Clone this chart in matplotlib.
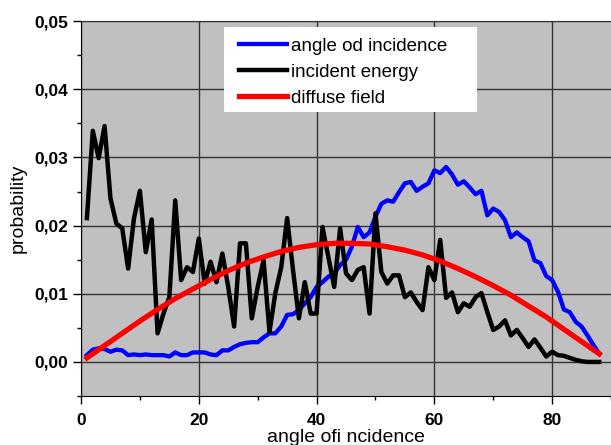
import matplotlib
matplotlib.use("Agg")
import matplotlib.pyplot as plt
from matplotlib.patches import Rectangle
from matplotlib.ticker import MultipleLocator, FuncFormatter

plt.rcParams['font.family'] = ['Liberation Sans', 'DejaVu Sans']

# --- datos ---
angles = list(range(1, 89))

angle_incidence = [
    0.0010, 0.0018, 0.0020, 0.0019, 0.0015, 0.0018, 0.0017, 0.0010, 0.0011, 0.0010,
    0.0011, 0.0010, 0.0010, 0.0010, 0.0008, 0.0014, 0.0010, 0.0010, 0.0014, 0.0014,
    0.0014, 0.0011, 0.0010, 0.0017, 0.0017, 0.0022, 0.0026, 0.0028, 0.0029, 0.0029,
    0.0036, 0.0042, 0.0042, 0.0052, 0.0069, 0.0070, 0.0076, 0.0086, 0.0095, 0.0110,
    0.0117, 0.0125, 0.0130, 0.0142, 0.0150, 0.0169, 0.0198, 0.0183, 0.0190, 0.0213,
    0.0232, 0.0237, 0.0235, 0.0249, 0.0262, 0.0264, 0.0251, 0.0257, 0.0262, 0.0281,
    0.0277, 0.0286, 0.0275, 0.0260, 0.0265, 0.0256, 0.0246, 0.0251, 0.0215, 0.0225,
    0.0220, 0.0208, 0.0183, 0.0190, 0.0183, 0.0177, 0.0149, 0.0145, 0.0126, 0.0120,
    0.0103, 0.0077, 0.0073, 0.0059, 0.0052, 0.0039, 0.0025, 0.0012,
]

incident_energy = [
    0.0211, 0.0339, 0.0299, 0.0346, 0.0240, 0.0203, 0.0196, 0.0137, 0.0211, 0.0251,
    0.0161, 0.0209, 0.0042, 0.0071, 0.0095, 0.0237, 0.0120, 0.0139, 0.0132, 0.0181,
    0.0115, 0.0147, 0.0117, 0.0159, 0.0110, 0.0052, 0.0174, 0.0174, 0.0064, 0.0110,
    0.0149, 0.0044, 0.0101, 0.0139, 0.0211, 0.0135, 0.0064, 0.0117, 0.0071, 0.0071,
    0.0198, 0.0154, 0.0110, 0.0196, 0.0130, 0.0120, 0.0135, 0.0139, 0.0071, 0.0218,
    0.0132, 0.0115, 0.0127, 0.0127, 0.0095, 0.0102, 0.0088, 0.0076, 0.0139, 0.0120,
    0.0179, 0.0094, 0.0102, 0.0073, 0.0086, 0.0081, 0.0095, 0.0101, 0.0073, 0.0047,
    0.0052, 0.0061, 0.0039, 0.0047, 0.0035, 0.0022, 0.0033, 0.0021, 0.0008, 0.0015,
    0.0010, 0.0009, 0.0006, 0.0003, 0.0001, 0.0000, 0.0000, 0.0000,
]

diffuse_angles = [1, 4, 7, 10, 13, 16, 19, 22, 25, 28, 31, 34, 37, 40, 43,
                  46, 49, 52, 55, 58, 61, 64, 67, 70, 73, 76, 79, 82, 85, 88]
diffuse_field = [0.0006, 0.0024, 0.0042, 0.0060, 0.0077, 0.0093, 0.0107, 0.0121,
                 0.0134, 0.0145, 0.0154, 0.0162, 0.0168, 0.0172, 0.0174, 0.0174,
                 0.0173, 0.0169, 0.0164, 0.0157, 0.0148, 0.0137, 0.0125, 0.0112,
                 0.0098, 0.0082, 0.0066, 0.0048, 0.0030, 0.0012]

# --- figura ---
fig = plt.figure(figsize=(6.11, 4.45), dpi=100)
ax = fig.add_axes([0.1326, 0.110, 0.8674, 0.8427])
ax.set_facecolor('#c0c0c0')

ax.plot(angles, angle_incidence, color='#0000ff', lw=3.1, label='angle od incidence')
ax.plot(angles, incident_energy, color='black', lw=3.2, label='incident energy')
ax.plot(diffuse_angles, diffuse_field, color='#ff0000', lw=3.8, label='diffuse field')

ax.set_xlim(0, 90)
ax.set_ylim(-0.005, 0.05)
ax.xaxis.set_major_locator(MultipleLocator(20))
ax.xaxis.set_minor_locator(MultipleLocator(10))
ax.yaxis.set_major_locator(MultipleLocator(0.01))
ax.yaxis.set_minor_locator(MultipleLocator(0.005))
ax.yaxis.set_major_formatter(FuncFormatter(lambda v, p: f"{v:.2f}".replace('.', ',')))

ax.grid(True, which='major', color='#333333', lw=1.0)
ax.set_axisbelow(True)
ax.tick_params(which='both', direction='out', width=1.0)
ax.tick_params(which='major', length=6, labelsize=12.5, pad=3)
ax.tick_params(axis='x', which='major', pad=6)
ax.tick_params(which='minor', length=3)
for lab in ax.get_xticklabels() + ax.get_yticklabels():
    lab.set_fontweight('bold')

ax.spines['right'].set_visible(False)
ax.spines['top'].set_color('#333333')

ax.set_xlabel('angle ofi ncidence', fontsize=14, labelpad=1)
ax.set_ylabel('probability', fontsize=14, labelpad=6)

# caja blanca de la leyenda
ax.add_patch(Rectangle((0.270, 0.757), 0.477, 0.227, transform=ax.transAxes,
                       facecolor='white', edgecolor='none', zorder=4))
leg = ax.legend(loc='upper left', bbox_to_anchor=(0.298, 0.955), borderaxespad=0,
                fontsize=13.5, handlelength=2.55, handletextpad=0.2,
                labelspacing=0.47, frameon=False, borderpad=0)
leg.set_zorder(5)

fig.savefig('out.png', dpi=100)
